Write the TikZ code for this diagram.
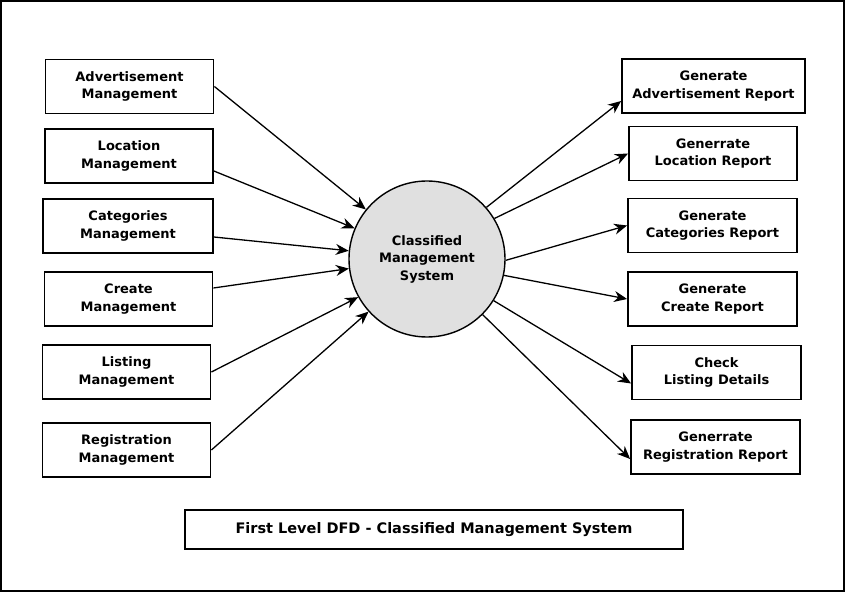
\documentclass[tikz,border=0pt]{standalone}
\usepackage{fontspec}
\setmainfont{DejaVu Sans}
\usetikzlibrary{arrows.meta}
\tikzset{
	proc/.style={draw, line width=1.8pt, minimum width=168pt, minimum height=54pt, inner sep=0pt, align=center, font=\bfseries\fontsize{13}{17.5}\selectfont},
	flow/.style={-{Stealth[length=13pt, width=11pt]}, line width=1.3pt}
}
\begin{document}
\begin{tikzpicture}[x=1pt, y=-1pt]
		% Marco
			\useasboundingbox (0,0) rectangle (846,593);
			\draw[line width=2pt] (1,1) rectangle (844,591);

		% Proceso central
			\node[draw, circle, line width=1.4pt, fill=black!12, minimum size=156pt, inner sep=0pt, align=center, font=\bfseries\fontsize{13}{17.5}\selectfont] (sys) at (427,259) {Classified\\Management\\System};

		% Entradas
			\node[proc] (adv) at (129.5,86.5) {Advertisement\\Management};
			\node[proc] (loc) at (129,156) {Location\\Management};
			\node[proc, minimum width=170pt] (cat) at (128,226) {Categories\\Management};
			\node[proc] (cre) at (128.5,299) {Create\\Management};
			\node[proc] (lst) at (126.5,372) {Listing\\Management};
			\node[proc] (reg) at (126.5,450) {Registration\\Management};

		% Salidas
			\node[proc, minimum width=183pt] (advr) at (713.5,86) {Generate\\Advertisement Report};
			\node[proc] (locr) at (713,153.5) {Generrate\\Location Report};
			\node[proc, minimum width=169pt] (catr) at (712.5,225.5) {Generate\\Categories Report};
			\node[proc, minimum width=169pt] (crer) at (712.5,299) {Generate\\Create Report};
			\node[proc, minimum width=169pt] (lstr) at (716.5,372.5) {Check\\Listing Details};
			\node[proc, minimum width=169pt] (regr) at (715.5,447) {Generrate\\Registration Report};

		% Titulo
			\node[proc, minimum width=498pt, minimum height=39pt, font=\bfseries\fontsize{14.5}{17.5}\selectfont] (title) at (434,529.5) {First Level DFD - Classified Management System};

		% Flujos de entrada
			\draw[flow] (adv.east) -- (sys.141.7);
			\draw[flow] ([yshift=-15pt]loc.east) -- (sys.157.3);
			\draw[flow] ([yshift=-11pt]cat.east) -- (sys.174);
			\draw[flow] ([yshift=11pt]cre.east) -- (sys.187.6);
			\draw[flow] (lst.east) -- (sys.209.4);
			\draw[flow] (reg.east) -- (sys.222.5);

		% Flujos de salida
			\draw[flow] (sys.41.4) -- ([yshift=-15pt]advr.west);
			\draw[flow] (sys.31.8) -- (locr.west);
			\draw[flow] (sys.359) -- (catr.west);
			\draw[flow] (sys.-12.3) -- (crer.west);
			\draw[flow] (sys.-32.9) -- ([yshift=-11pt]lstr.west);
			\draw[flow] (sys.-45.5) -- ([yshift=-12pt]regr.west);
	\end{tikzpicture}
\end{document}
